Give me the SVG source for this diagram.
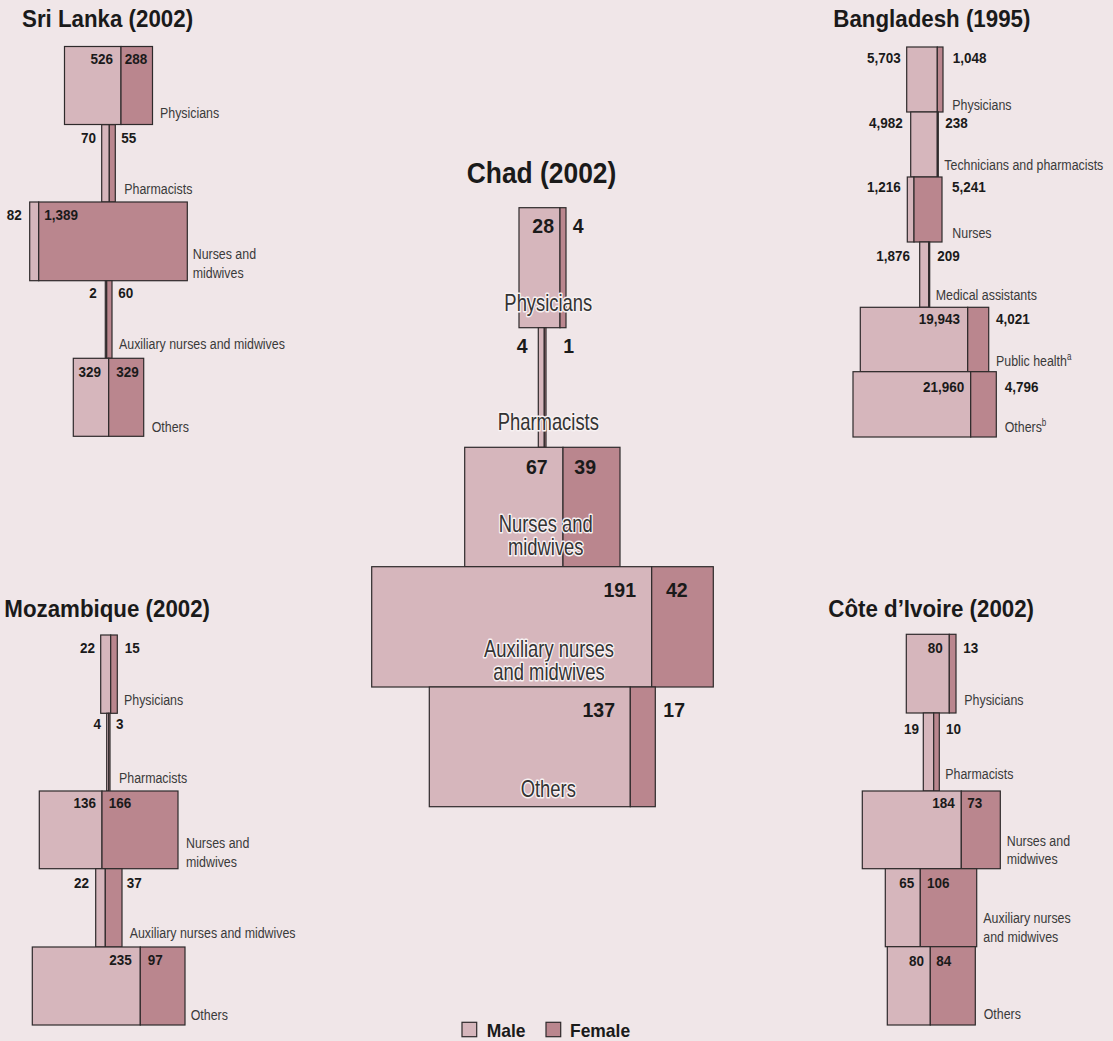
<svg xmlns="http://www.w3.org/2000/svg" width="1113" height="1041" viewBox="0 0 1113 1041">
<style>
.m{fill:#D6B6BC;stroke:#2e2a2b;stroke-width:1.2}
.f{fill:#BA868E;stroke:#2e2a2b;stroke-width:1.2}
text{font-family:"Liberation Sans",Arial,sans-serif}
.t{font-weight:bold;font-size:24px;fill:#1a1a1a}
.tc{font-weight:bold;font-size:30px;fill:#1a1a1a}
.n{font-weight:bold;font-size:15px;fill:#1a1a1a}
.e{text-anchor:end}
.l{font-size:15.5px;fill:#3a3a3a}
.cn{font-weight:bold;font-size:21px;fill:#1a1a1a}
.cl{font-size:23px;fill:#333;text-anchor:middle;stroke:#f7f1f2;stroke-width:3;paint-order:stroke;stroke-linejoin:round}
.lg{font-weight:bold;font-size:18px;fill:#1a1a1a}
</style>
<rect width="1113" height="1041" fill="#F0E6E8"/>
<g id="connectors"/>

<g id="sri-lanka">
<text class="t" transform="matrix(.93 0 0 1 22 27)">Sri Lanka (2002)</text>
<g id="sl-physicians"><rect class="m" x="64.5" y="46.5" width="56.5" height="78"/><rect class="f" x="121" y="46.5" width="31.5" height="78"/>
<text class="n e" transform="matrix(.9 0 0 1 113 64)">526</text><text class="n" transform="matrix(.9 0 0 1 124.7 64)">288</text><text class="l" transform="matrix(.8 0 0 1 160 118)">Physicians</text></g>
<g id="sl-pharmacists"><rect class="m" x="101.7" y="124.7" width="7.6" height="77.3"/><rect class="f" x="109.3" y="124.7" width="6" height="77.3"/>
<text class="n e" transform="matrix(.9 0 0 1 96 143)">70</text><text class="n" transform="matrix(.9 0 0 1 121.3 143)">55</text><text class="l" transform="matrix(.8 0 0 1 124.3 194)">Pharmacists</text></g>
<g id="sl-nurses"><rect class="m" x="29.7" y="202" width="9" height="78.7"/><rect class="f" x="38.7" y="202" width="148.6" height="78.7"/>
<text class="n" transform="matrix(.9 0 0 1 6.7 220)">82</text><text class="n" transform="matrix(.9 0 0 1 44.3 220)">1,389</text><text class="l" transform="matrix(.8 0 0 1 192.7 259.3)">Nurses and</text><text class="l" transform="matrix(.8 0 0 1 192.7 278.3)">midwives</text></g>
<g id="sl-auxiliary"><rect class="m" x="105.3" y="280.7" width="1.4" height="77.6"/><rect class="f" x="106.7" y="280.7" width="5.3" height="77.6"/>
<text class="n e" transform="matrix(.9 0 0 1 96.7 297.7)">2</text><text class="n" transform="matrix(.9 0 0 1 118.3 297.7)">60</text><text class="l" transform="matrix(.8 0 0 1 119 349.3)">Auxiliary nurses and midwives</text></g>
<g id="sl-others"><rect class="m" x="73.3" y="358.3" width="35.4" height="78"/><rect class="f" x="108.7" y="358.3" width="35" height="78"/>
<text class="n e" transform="matrix(.9 0 0 1 101 376.7)">329</text><text class="n" transform="matrix(.9 0 0 1 116.3 376.7)">329</text><text class="l" transform="matrix(.8 0 0 1 151.7 431.7)">Others</text></g>
</g>

<g id="bangladesh">
<text class="t" transform="matrix(.93 0 0 1 833.3 27)">Bangladesh (1995)</text>
<g id="bd-physicians"><rect class="m" x="906.7" y="47" width="30.6" height="65"/><rect class="f" x="937.3" y="47" width="5.7" height="65"/>
<text class="n e" transform="matrix(.9 0 0 1 900.7 63.3)">5,703</text><text class="n" transform="matrix(.9 0 0 1 952.7 63.3)">1,048</text><text class="l" transform="matrix(.8 0 0 1 952.3 110)">Physicians</text></g>
<g id="bd-technicians"><rect class="m" x="910.7" y="112" width="26.6" height="65"/><rect class="f" x="937.3" y="112" width="1" height="65"/>
<text class="n e" transform="matrix(.9 0 0 1 902.7 128.3)">4,982</text><text class="n" transform="matrix(.9 0 0 1 945.3 128.3)">238</text><text class="l" transform="matrix(.8 0 0 1 944.3 170)">Technicians and pharmacists</text></g>
<g id="bd-nurses"><rect class="m" x="907.3" y="177" width="6.7" height="65"/><rect class="f" x="914" y="177" width="28" height="65"/>
<text class="n e" transform="matrix(.9 0 0 1 900.7 191.7)">1,216</text><text class="n" transform="matrix(.9 0 0 1 952 191.7)">5,241</text><text class="l" transform="matrix(.8 0 0 1 952.3 238.3)">Nurses</text></g>
<g id="bd-medical"><rect class="m" x="919.7" y="242" width="9" height="65.3"/><rect class="f" x="928.7" y="242" width="1" height="65.3"/>
<text class="n e" transform="matrix(.9 0 0 1 910 260.7)">1,876</text><text class="n" transform="matrix(.9 0 0 1 937.3 260.7)">209</text><text class="l" transform="matrix(.8 0 0 1 935.7 300)">Medical assistants</text></g>
<g id="bd-public"><rect class="m" x="860.3" y="307.3" width="107.4" height="64.4"/><rect class="f" x="967.7" y="307.3" width="21" height="64.4"/>
<text class="n e" transform="matrix(.9 0 0 1 960 324)">19,943</text><text class="n" transform="matrix(.9 0 0 1 996 324)">4,021</text><text class="l" transform="matrix(.8 0 0 1 996 365.7)">Public health<tspan font-size="10" dy="-6">a</tspan></text></g>
<g id="bd-others"><rect class="m" x="853" y="371.7" width="117.7" height="65.3"/><rect class="f" x="970.7" y="371.7" width="25.6" height="65.3"/>
<text class="n e" transform="matrix(.9 0 0 1 964.3 391.7)">21,960</text><text class="n" transform="matrix(.9 0 0 1 1004.7 391.7)">4,796</text><text class="l" transform="matrix(.8 0 0 1 1004.7 432.3)">Others<tspan font-size="10" dy="-6">b</tspan></text></g>
</g>

<g id="chad">
<text class="tc" transform="matrix(.88 0 0 1 466.7 183.3)">Chad (2002)</text>
<g id="td-physicians"><rect class="m" x="519" y="207.7" width="41" height="120"/><rect class="f" x="560" y="207.7" width="6" height="120"/>
<text class="cn e" transform="matrix(.93 0 0 1 554 232.7)">28</text><text class="cn" transform="matrix(.93 0 0 1 572.7 232.7)">4</text><text class="cl" transform="matrix(.8 0 0 1 548.3 311)">Physicians</text></g>
<g id="td-pharmacists"><rect class="m" x="538.3" y="327.7" width="6" height="119.6"/><rect class="f" x="544.3" y="327.7" width="1.7" height="119.6"/>
<text class="cn e" transform="matrix(.93 0 0 1 527.7 353.3)">4</text><text class="cn" transform="matrix(.93 0 0 1 563.3 353.3)">1</text><text class="cl" transform="matrix(.8 0 0 1 548.3 430)">Pharmacists</text></g>
<g id="td-nurses"><rect class="m" x="464.7" y="447.3" width="98.3" height="119.4"/><rect class="f" x="563" y="447.3" width="57" height="119.4"/>
<text class="cn e" transform="matrix(.93 0 0 1 547.7 474.3)">67</text><text class="cn" transform="matrix(.93 0 0 1 574.3 474.3)">39</text><text class="cl" transform="matrix(.8 0 0 1 545.7 531.7)">Nurses and</text><text class="cl" transform="matrix(.8 0 0 1 545.7 555)">midwives</text></g>
<g id="td-auxiliary"><rect class="m" x="371.7" y="566.7" width="280" height="120.3"/><rect class="f" x="651.7" y="566.7" width="61.6" height="120.3"/>
<text class="cn e" transform="matrix(.93 0 0 1 636 596.7)">191</text><text class="cn" transform="matrix(.93 0 0 1 666 596.7)">42</text><text class="cl" transform="matrix(.8 0 0 1 549 657.3)">Auxiliary nurses</text><text class="cl" transform="matrix(.8 0 0 1 549 680)">and midwives</text></g>
<g id="td-others"><rect class="m" x="429.3" y="687" width="201" height="119.7"/><rect class="f" x="630.3" y="687" width="25" height="119.7"/>
<text class="cn e" transform="matrix(.93 0 0 1 615 717.3)">137</text><text class="cn" transform="matrix(.93 0 0 1 663.3 717.3)">17</text><text class="cl" transform="matrix(.8 0 0 1 548.3 797.3)">Others</text></g>
</g>

<g id="mozambique">
<text class="t" transform="matrix(.93 0 0 1 4.3 617.3)">Mozambique (2002)</text>
<g id="mz-physicians"><rect class="m" x="100.7" y="635" width="10" height="78.3"/><rect class="f" x="110.7" y="635" width="6.6" height="78.3"/>
<text class="n e" transform="matrix(.9 0 0 1 95 652.7)">22</text><text class="n" transform="matrix(.9 0 0 1 124.7 652.7)">15</text><text class="l" transform="matrix(.8 0 0 1 124 705)">Physicians</text></g>
<g id="mz-pharmacists"><rect class="m" x="106.7" y="713.3" width="2" height="77.7"/><rect class="f" x="108.7" y="713.3" width="1.3" height="77.7"/>
<text class="n e" transform="matrix(.9 0 0 1 101 729.3)">4</text><text class="n" transform="matrix(.9 0 0 1 116 729.3)">3</text><text class="l" transform="matrix(.8 0 0 1 119 782.7)">Pharmacists</text></g>
<g id="mz-nurses"><rect class="m" x="39.3" y="791" width="62.7" height="77.7"/><rect class="f" x="102" y="791" width="76" height="77.7"/>
<text class="n e" transform="matrix(.9 0 0 1 96 807.7)">136</text><text class="n" transform="matrix(.9 0 0 1 108.7 807.7)">166</text><text class="l" transform="matrix(.8 0 0 1 186 848.3)">Nurses and</text><text class="l" transform="matrix(.8 0 0 1 186 866.7)">midwives</text></g>
<g id="mz-auxiliary"><rect class="m" x="95.7" y="868.7" width="9.6" height="78.3"/><rect class="f" x="105.3" y="868.7" width="16.7" height="78.3"/>
<text class="n e" transform="matrix(.9 0 0 1 89 887.7)">22</text><text class="n" transform="matrix(.9 0 0 1 126.7 887.7)">37</text><text class="l" transform="matrix(.8 0 0 1 129.7 938.3)">Auxiliary nurses and midwives</text></g>
<g id="mz-others"><rect class="m" x="32.3" y="947" width="108" height="78"/><rect class="f" x="140.3" y="947" width="44.7" height="78"/>
<text class="n e" transform="matrix(.9 0 0 1 131.7 965)">235</text><text class="n" transform="matrix(.9 0 0 1 147.7 965)">97</text><text class="l" transform="matrix(.8 0 0 1 190.7 1020)">Others</text></g>
</g>

<g id="cote-divoire">
<text class="t" transform="matrix(.93 0 0 1 828.3 617.3)">Côte d’Ivoire (2002)</text>
<g id="ci-physicians"><rect class="m" x="906.3" y="634.3" width="43" height="78.7"/><rect class="f" x="949.3" y="634.3" width="6.7" height="78.7"/>
<text class="n e" transform="matrix(.9 0 0 1 942.7 652.7)">80</text><text class="n" transform="matrix(.9 0 0 1 963.3 652.7)">13</text><text class="l" transform="matrix(.8 0 0 1 964.3 705)">Physicians</text></g>
<g id="ci-pharmacists"><rect class="m" x="923.3" y="713" width="10.4" height="78"/><rect class="f" x="933.7" y="713" width="5.6" height="78"/>
<text class="n e" transform="matrix(.9 0 0 1 919 734)">19</text><text class="n" transform="matrix(.9 0 0 1 946 734)">10</text><text class="l" transform="matrix(.8 0 0 1 945.3 779.3)">Pharmacists</text></g>
<g id="ci-nurses"><rect class="m" x="862.3" y="791" width="99" height="77.7"/><rect class="f" x="961.3" y="791" width="39" height="77.7"/>
<text class="n e" transform="matrix(.9 0 0 1 954.7 807.7)">184</text><text class="n" transform="matrix(.9 0 0 1 967.3 807.7)">73</text><text class="l" transform="matrix(.8 0 0 1 1006.7 846)">Nurses and</text><text class="l" transform="matrix(.8 0 0 1 1006.7 864)">midwives</text></g>
<g id="ci-auxiliary"><rect class="m" x="885.3" y="868.7" width="35" height="78"/><rect class="f" x="920.3" y="868.7" width="56.4" height="78"/>
<text class="n e" transform="matrix(.9 0 0 1 914.3 887.7)">65</text><text class="n" transform="matrix(.9 0 0 1 927 887.7)">106</text><text class="l" transform="matrix(.8 0 0 1 983.3 923.3)">Auxiliary nurses</text><text class="l" transform="matrix(.8 0 0 1 983.3 941.7)">and midwives</text></g>
<g id="ci-others"><rect class="m" x="887.3" y="946.7" width="43" height="78.3"/><rect class="f" x="930.3" y="946.7" width="45" height="78.3"/>
<text class="n e" transform="matrix(.9 0 0 1 924 965.7)">80</text><text class="n" transform="matrix(.9 0 0 1 936.3 965.7)">84</text><text class="l" transform="matrix(.8 0 0 1 983.7 1019.3)">Others</text></g>
</g>

<g id="legend">
<rect class="m" x="462" y="1022.3" width="14.7" height="14.4"/><text class="lg" transform="matrix(.97 0 0 1 486.7 1036.7)">Male</text>
<rect class="f" x="546" y="1022.3" width="14.7" height="14.4"/><text class="lg" transform="matrix(.97 0 0 1 570 1036.7)">Female</text>
</g>
</svg>
